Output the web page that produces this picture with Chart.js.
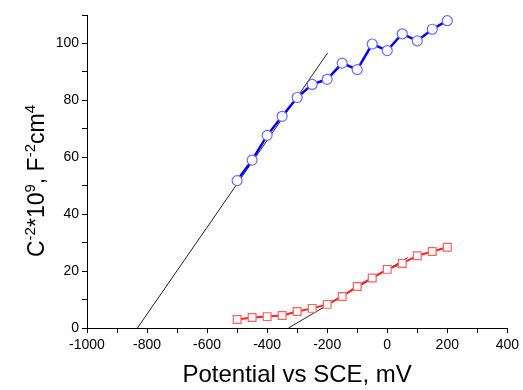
<!DOCTYPE html>
<html>
<head>
<meta charset="utf-8">
<script src="https://cdn.jsdelivr.net/npm/chart.js@4"></script>
<style>
  html, body { margin: 0; padding: 0; background: #fff; }
  #wrap { width: 523px; height: 390px; position: relative; }
</style>
</head>
<body>
<div id="wrap"><canvas id="chart"></canvas></div>
<script>
// potentials in mV vs SCE
const potentials = [-500, -450, -400, -350, -300, -250, -200, -150, -100, -50, 0, 50, 100, 150, 200];
// upper series (circles)
const circleValues = [51.8, 59.0, 67.7, 74.4, 81.0, 85.6, 87.4, 93.1, 90.8, 99.8, 97.5, 103.4, 100.9, 105.0, 108.0];
// lower series (squares)
const squareValues = [3.0, 3.7, 4.0, 4.4, 5.8, 6.9, 8.3, 11.1, 14.6, 17.6, 20.6, 22.7, 25.4, 26.9, 28.4];
// linear fits (end points)
const fitCircleX = [-832, -199];
const fitCircleY = [0, 96.6];
const fitSquareX = [-329, 68];
const fitSquareY = [0, 24.7];

// every tick position; labels only on the major ones
const xTicks = [-1000, -900, -800, -700, -600, -500, -400, -300, -200, -100, 0, 100, 200, 300, 400];
const yTicks = [0, 10, 20, 30, 40, 50, 60, 70, 80, 90, 100, 110];
const xStep = 200;
const yStep = 20;

const toPts = (xs, ys) => xs.map((x, i) => ({ x: x, y: ys[i] }));

// y title with superscripts
const yTitle = {
  id: "yTitle",
  afterDraw(chart) {
    const ctx = chart.ctx;
    const parts = [
      ["C", false], ["-2", true], ["*10", false], ["9", true],
      [", F", false], ["-2", true], ["cm", false], ["4", true]
    ];
    const big = "23px 'Liberation Sans', Arial, sans-serif";
    const small = "15px 'Liberation Sans', Arial, sans-serif";
    let total = 0;
    parts.forEach((p) => {
      ctx.font = p[1] ? small : big;
      total += ctx.measureText(p[0]).width;
    });
    ctx.save();
    ctx.translate(44, 181);
    ctx.rotate(-Math.PI / 2);
    ctx.fillStyle = "#000";
    ctx.textBaseline = "alphabetic";
    let x = -total / 2;
    parts.forEach((p) => {
      ctx.font = p[1] ? small : big;
      ctx.fillText(p[0], x, p[1] ? -9 : 0);
      x += ctx.measureText(p[0]).width;
    });
    ctx.restore();
  }
};

const tickGrid = {
  display: true,
  drawOnChartArea: false,
  drawTicks: true,
  tickLength: 5,
  tickColor: "#000",
  tickWidth: 1
};

new Chart(document.getElementById("chart"), {
  type: "scatter",
  data: {
    datasets: [
      {
        data: toPts(potentials, circleValues),
        showLine: true,
        borderColor: "#0000ff",
        borderWidth: 2.5,
        pointStyle: "circle",
        pointRadius: 5,
        pointBorderWidth: 1.2,
        pointBorderColor: "#6a6aff",
        pointBackgroundColor: "#ffffff"
      },
      {
        data: toPts(potentials, squareValues),
        showLine: true,
        borderColor: "#ff2020",
        borderWidth: 2,
        pointStyle: "rect",
        pointRadius: 5.5,
        pointBorderWidth: 1.2,
        pointBorderColor: "#ff6060",
        pointBackgroundColor: "#ffffff"
      },
      {
        data: toPts(fitCircleX, fitCircleY),
        showLine: true,
        borderColor: "#222",
        borderWidth: 1,
        pointRadius: 0
      },
      {
        data: toPts(fitSquareX, fitSquareY),
        showLine: true,
        borderColor: "#222",
        borderWidth: 1,
        pointRadius: 0
      }
    ]
  },
  options: {
    responsive: true,
    maintainAspectRatio: false,
    animation: false,
    events: [],
    layout: { padding: { top: 15, right: 5, left: 0, bottom: 0 } },
    plugins: { legend: { display: false }, tooltip: { enabled: false } },
    scales: {
      x: {
        type: "linear",
        min: -1000,
        max: 400,
        afterBuildTicks: (s) => { s.ticks = xTicks.map((v) => ({ value: v })); },
        afterFit: (s) => { s.height = 62; },
        grid: tickGrid,
        border: { display: true, color: "#000", width: 1 },
        ticks: {
          color: "#000",
          padding: 4,
          maxRotation: 0,
          autoSkip: false,
          callback: (v) => (v % xStep === 0 ? String(v) : ""),
          font: { family: "'Liberation Sans', Arial, sans-serif", size: 14 }
        },
        title: {
          display: true,
          text: "Potential vs SCE, mV",
          color: "#000",
          padding: { top: 4, bottom: 0 },
          font: { family: "'Liberation Sans', Arial, sans-serif", size: 24 }
        }
      },
      y: {
        type: "linear",
        min: 0,
        max: 110,
        afterBuildTicks: (s) => { s.ticks = yTicks.map((v) => ({ value: v })); },
        afterFit: (s) => { s.width = 87; },
        grid: tickGrid,
        border: { display: true, color: "#000", width: 1 },
        ticks: {
          color: "#000",
          padding: 3,
          autoSkip: false,
          callback: (v) => (v % yStep === 0 ? String(v) : ""),
          font: { family: "'Liberation Sans', Arial, sans-serif", size: 14 }
        }
      }
    }
  },
  plugins: [yTitle]
});
</script>
</body>
</html>
